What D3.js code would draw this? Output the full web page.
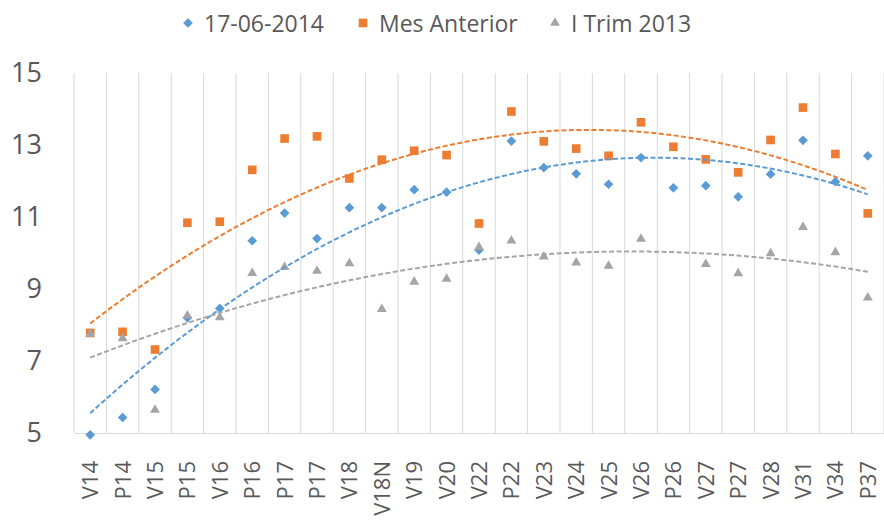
<!DOCTYPE html>
<html>
<head>
<meta charset="utf-8">
<script src="https://cdn.jsdelivr.net/npm/d3@7"></script>
<style>
  body { margin: 0; background: #fff; }
  svg { font-family: "Open Sans", sans-serif; }
</style>
</head>
<body>
<div id="chart"></div>
<script>
const categories = ["V14", "P14", "V15", "P15", "V16", "P16", "P17", "P17", "V18", "V18N", "V19", "V20",
    "V22", "P22", "V23", "V24", "V25", "V26", "P26", "V27", "P27", "V28", "V31", "V34", "P37"];

const actual = [4.95, 5.43, 6.21, 8.2, 8.46, 10.34, 11.11, 10.4, 11.26, 11.26, 11.76, 11.69,
    10.08, 13.11, 12.37, 12.2, 11.91, 12.65, 11.81, 11.87, 11.56, 12.19, 13.13, 11.98, 12.7];

const prevMonth = [7.78, 7.81, 7.32, 10.84, 10.87, 12.31, 13.18, 13.24, 12.07, 12.59, 12.84, 12.72,
    10.82, 13.93, 13.1, 12.9, 12.7, 13.63, 12.95, 12.6, 12.24, 13.14, 14.04, 12.75, 11.1];

const trim2013 = [7.75, 7.63, 5.64, 8.26, 8.21, 9.44, 9.61, 9.5, 9.71, 8.44, 9.2, 9.28,
    10.16, 10.34, 9.9, 9.73, 9.64, 10.39, null, 9.69, 9.43, 9.99, 10.72, 10.02, 8.76];

const yTicks = [5, 7, 9, 11, 13, 15];

const series = [
    { name: "17-06-2014", values: actual, color: "#5b9bd5", symbol: d3.symbolDiamond2, size: 60 },
    { name: "Mes Anterior", values: prevMonth, color: "#ed7d31", symbol: d3.symbolSquare2, size: 95 },
    { name: "I Trim 2013", values: trim2013, color: "#a5a5a5", symbol: d3.symbolTriangle2, size: 70 }
];

const width = 884;
const height = 521;
const marginTop = 73;
const marginRight = 0;
const marginBottom = 88;
const marginLeft = 74;

const svg = d3.select("#chart")
    .append("svg")
    .attr("width", width)
    .attr("height", height);

const x = d3.scaleBand()
    .domain(d3.range(categories.length))
    .range([marginLeft, width - marginRight])
    .padding(0);

const y = d3.scaleLinear()
    .domain([5, 15])
    .range([height - marginBottom, marginTop]);

const xPos = i => x(i) + x.bandwidth() / 2;

// vertical gridlines between categories
svg.append("g")
    .selectAll("line")
    .data(d3.range(categories.length + 1))
    .join("line")
    .attr("x1", i => marginLeft + i * x.bandwidth())
    .attr("x2", i => marginLeft + i * x.bandwidth())
    .attr("y1", y(15))
    .attr("y2", y(5))
    .attr("stroke", "#d9d9d9")
    .attr("stroke-width", 1);

// x axis
svg.append("g")
    .attr("transform", `translate(0,${y(5)})`)
    .call(d3.axisBottom(x).tickSize(0).tickFormat(i => categories[i]))
    .call(g => g.select(".domain").attr("stroke", "#d9d9d9"))
    .call(g => g.selectAll(".tick text")
        .attr("font-size", 22)
        .attr("font-family", "Open Sans, sans-serif")
        .attr("fill", "#595959")
        .attr("text-anchor", "end")
        .attr("transform", "translate(0,28) rotate(-90)")
        .attr("x", 0)
        .attr("y", 0)
        .attr("dy", "0.36em"));

// y axis
svg.append("g")
    .attr("transform", `translate(${marginLeft},0)`)
    .call(d3.axisLeft(y).tickValues(yTicks).tickSize(0).tickPadding(32))
    .call(g => g.select(".domain").remove())
    .call(g => g.selectAll(".tick text")
        .attr("font-size", 27)
        .attr("font-family", "Open Sans, sans-serif")
        .attr("fill", "#595959"));

// quadratic least squares fit, x = 1..n
function polyFit(values) {
    const pts = values.map((v, i) => [i + 1, v]).filter(p => p[1] != null);
    let s = [0, 0, 0, 0, 0], t = [0, 0, 0];
    pts.forEach(([px, py]) => {
        for (let k = 0; k < 5; k++) s[k] += Math.pow(px, k);
        for (let k = 0; k < 3; k++) t[k] += py * Math.pow(px, k);
    });
    const A = [[s[0], s[1], s[2], t[0]], [s[1], s[2], s[3], t[1]], [s[2], s[3], s[4], t[2]]];
    for (let c = 0; c < 3; c++) {
        for (let r = c + 1; r < 3; r++) {
            const f = A[r][c] / A[c][c];
            for (let k = c; k < 4; k++) A[r][k] -= f * A[c][k];
        }
    }
    const b = [0, 0, 0];
    for (let r = 2; r >= 0; r--) {
        let sum = A[r][3];
        for (let k = r + 1; k < 3; k++) sum -= A[r][k] * b[k];
        b[r] = sum / A[r][r];
    }
    return xv => b[0] + b[1] * xv + b[2] * xv * xv;
}

const xTrend = d3.scaleLinear()
    .domain([1, categories.length])
    .range([xPos(0), xPos(categories.length - 1)]);

// markers
series.forEach(s => {
    svg.append("g")
        .selectAll("path")
        .data(s.values.map((v, i) => ({ i, v })).filter(d => d.v != null))
        .join("path")
        .attr("transform", d => `translate(${xPos(d.i)},${y(d.v)})`)
        .attr("d", d3.symbol(s.symbol, s.size))
        .attr("fill", s.color);
});

// trendlines
series.forEach(s => {
    const f = polyFit(s.values);
    const samples = d3.range(1, categories.length + 0.001, 0.25);
    svg.append("path")
        .datum(samples)
        .attr("fill", "none")
        .attr("stroke", s.color)
        .attr("stroke-width", 2)
        .attr("stroke-dasharray", "5,2.5")
        .attr("d", d3.line().x(d => xTrend(d)).y(d => y(f(d))));
});

// legend
const legendX = [188, 363, 555];
const legend = svg.append("g");
series.forEach((s, k) => {
    legend.append("path")
        .attr("transform", `translate(${legendX[k]},23)`)
        .attr("d", d3.symbol(s.symbol, s.size))
        .attr("fill", s.color);
    legend.append("text")
        .attr("x", legendX[k] + 16)
        .attr("y", 32)
        .attr("font-size", 23)
        .attr("fill", "#595959")
        .text(s.name);
});
</script>
</body>
</html>
